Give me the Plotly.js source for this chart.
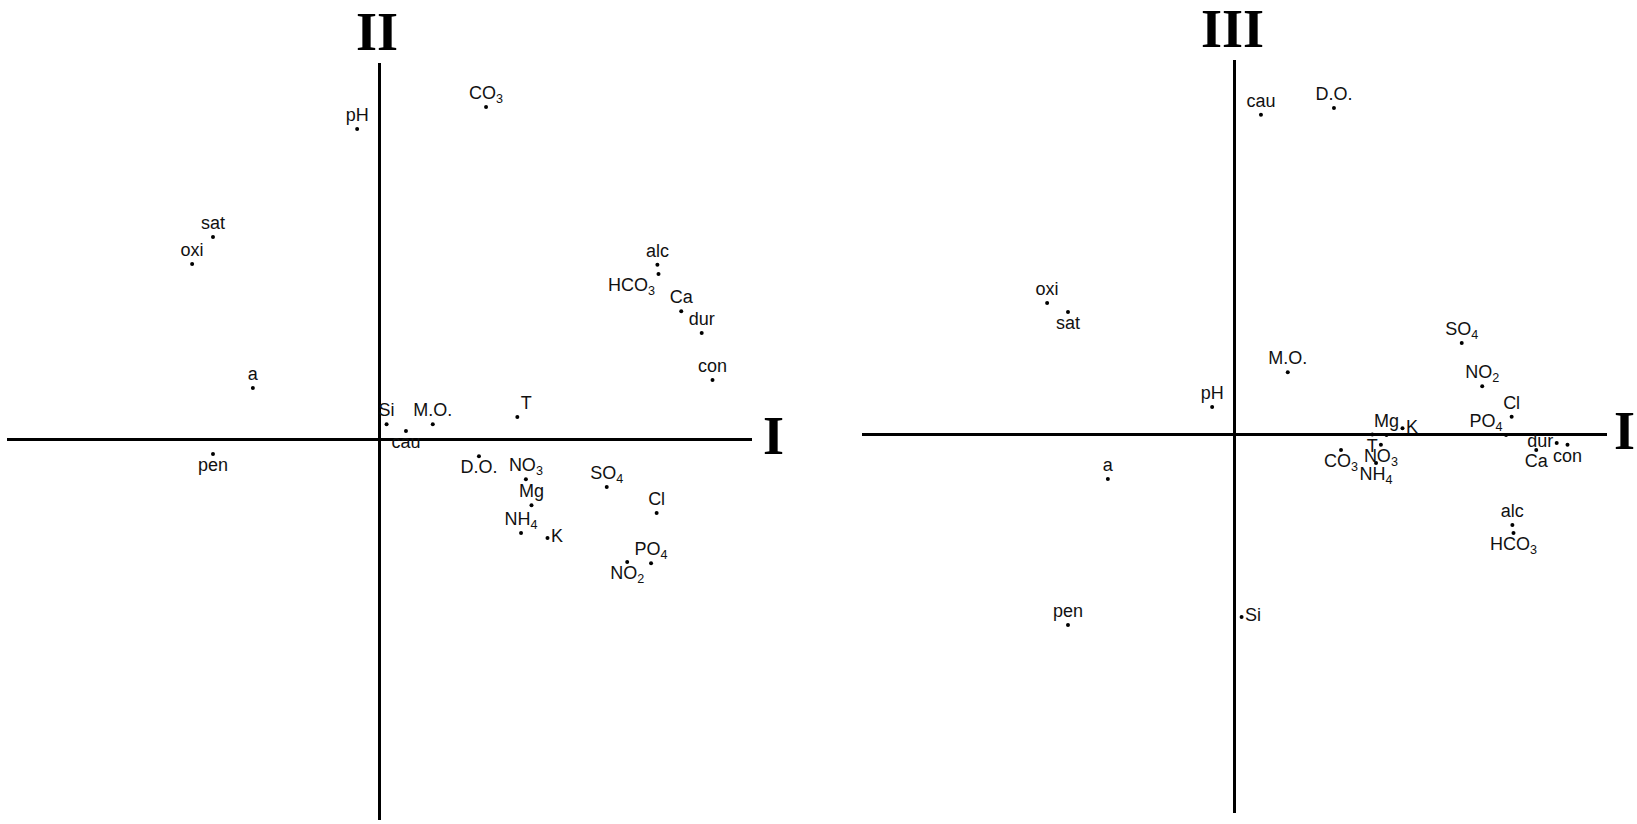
<!DOCTYPE html>
<html>
<head>
<meta charset="utf-8">
<script src="https://cdn.plot.ly/plotly-3.0.1.min.js"></script>
<style>
  html, body { margin: 0; padding: 0; background: #fff; }
  #chart { width: 1637px; height: 824px; }
</style>
</head>
<body>
<div id="chart"></div>
<script>
// Variables (categories)
const variables = ['pH','CO3','sat','oxi','alc','HCO3','Ca','dur','con','a','Si','M.O.','T','cau','pen','D.O.','NO3','SO4','Mg','Cl','NH4','K','NO2','PO4'];
const labels = ['pH','CO<sub>3</sub>','sat','oxi','alc','HCO<sub>3</sub>','Ca','dur','con','a','Si','M.O.','T','cau','pen','D.O.','NO<sub>3</sub>','SO<sub>4</sub>','Mg','Cl','NH<sub>4</sub>','K','NO<sub>2</sub>','PO<sub>4</sub>'];

// Factor scores
const factorI   = [-0.060, 0.286, -0.447, -0.503, 0.746, 0.749, 0.810, 0.865, 0.894, -0.340, 0.019, 0.143, 0.370, 0.071, -0.447, 0.267, 0.393, 0.610, 0.408, 0.744, 0.380, 0.451, 0.665, 0.729];
const factorII  = [0.825, 0.883, 0.538, 0.466, 0.464, 0.440, 0.341, 0.283, 0.158, 0.137, 0.041, 0.041, 0.060, 0.023, -0.038, -0.044, -0.105, -0.126, -0.174, -0.195, -0.248, -0.261, -0.325, -0.328];
const factorIII = [0.073, -0.041, 0.324, 0.348, -0.239, -0.260, -0.041, -0.022, -0.027, -0.117, -0.482, 0.165, 0.000, 0.845, -0.503, 0.863, -0.027, 0.242, -0.001, 0.047, -0.075, 0.017, 0.128, -0.001];

// Axis names
const axisNames = { h: 'I', v1: 'II', v2: 'III' };

// Label placement (style only)
const posLeft = {
  'pH':'top center','CO3':'top center','sat':'top center','oxi':'top center','alc':'top center',
  'HCO3':'bottom left','Ca':'top center','dur':'top center','con':'top center','a':'top center',
  'Si':'top center','M.O.':'top center','T':'top right','cau':'bottom center','pen':'bottom center',
  'D.O.':'bottom center','NO3':'top center','SO4':'top center','Mg':'top center','Cl':'top center',
  'NH4':'top center','K':'middle right','NO2':'bottom center','PO4':'top center'
};
const posRight = {
  'pH':'top center','CO3':'bottom center','sat':'bottom center','oxi':'top center','alc':'top center',
  'HCO3':'bottom center','Ca':'bottom center','dur':'middle left','con':'bottom center','a':'top center',
  'Si':'middle right','M.O.':'top center','T':'bottom center','cau':'top center','pen':'top center',
  'D.O.':'top center','NO3':'bottom center','SO4':'top center','Mg':'top center','Cl':'top center',
  'NH4':'bottom center','K':'middle right','NO2':'top center','PO4':'top left'
};

const labelFont = { family: 'Liberation Sans, Arial, sans-serif', size: 18, color: '#111' };
const markerStyle = { size: 4, color: '#000' };

const traces = [
  {
    type: 'scatter', mode: 'markers+text', xaxis: 'x', yaxis: 'y',
    x: factorI, y: factorII, text: labels,
    textposition: variables.map(v => posLeft[v]),
    textfont: labelFont, marker: markerStyle, cliponaxis: false,
    hoverinfo: 'skip', showlegend: false
  },
  {
    type: 'scatter', mode: 'markers+text', xaxis: 'x2', yaxis: 'y2',
    x: factorI, y: factorIII, text: labels,
    textposition: variables.map(v => posRight[v]),
    textfont: labelFont, marker: markerStyle, cliponaxis: false,
    hoverinfo: 'skip', showlegend: false
  }
];

const W = 1637, H = 824;
function axisBase(extra) {
  return Object.assign({
    showgrid: false, showticklabels: false, ticks: '', showline: false,
    zeroline: true, zerolinecolor: '#000', zerolinewidth: 3, fixedrange: true
  }, extra);
}
const romanFont = { family: 'Liberation Serif, serif', size: 54, color: '#000', weight: 'bold' };

const layout = {
  width: W, height: H,
  margin: { l: 0, r: 0, t: 0, b: 0 },
  paper_bgcolor: '#fff', plot_bgcolor: 'rgba(0,0,0,0)',
  showlegend: false,
  xaxis:  axisBase({ domain: [7 / W, 752 / W], range: [-1, 1], anchor: 'y' }),
  yaxis:  axisBase({ domain: [1 - 820 / H, 1 - 63 / H], range: [-1.01, 1.0], anchor: 'x' }),
  xaxis2: axisBase({ domain: [862 / W, 1607 / W], range: [-1, 1], anchor: 'y2' }),
  yaxis2: axisBase({ domain: [1 - 813 / H, 1 - 60 / H], range: [-1.0, 0.99], anchor: 'x2' }),
  annotations: [
    { text: axisNames.v1, xref: 'paper', yref: 'paper', x: 377 / W, y: 1 - 32 / H, showarrow: false,
      xanchor: 'center', yanchor: 'middle', font: romanFont },
    { text: axisNames.h, xref: 'paper', yref: 'paper', x: 773 / W, y: 1 - 436 / H, showarrow: false,
      xanchor: 'center', yanchor: 'middle', font: romanFont },
    { text: axisNames.v2, xref: 'paper', yref: 'paper', x: 1232 / W, y: 1 - 29 / H, showarrow: false,
      xanchor: 'center', yanchor: 'middle', font: romanFont },
    { text: axisNames.h, xref: 'paper', yref: 'paper', x: 1624 / W, y: 1 - 431 / H, showarrow: false,
      xanchor: 'center', yanchor: 'middle', font: romanFont }
  ]
};

Plotly.newPlot('chart', traces, layout, { displayModeBar: false, staticPlot: true });
</script>
</body>
</html>
